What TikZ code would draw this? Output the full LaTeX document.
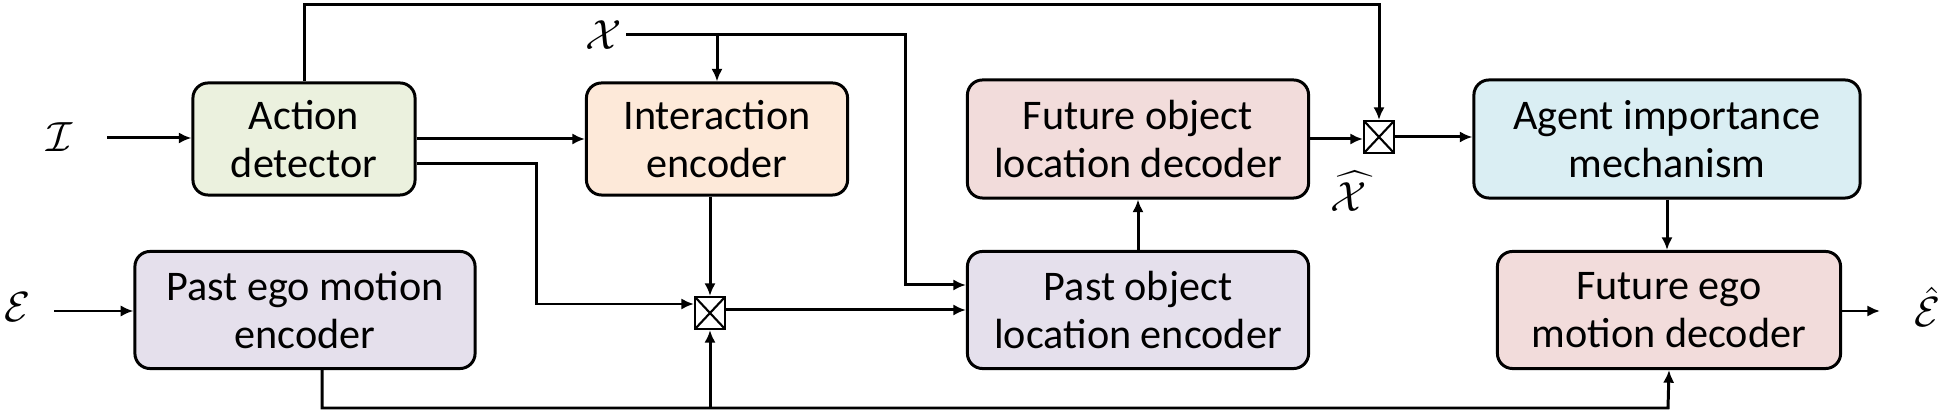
\documentclass[tikz,border=0pt]{standalone}
\usepackage{fontspec}
\setmainfont{Carlito}
\usetikzlibrary{arrows.meta, calc}

\definecolor{actfill}{HTML}{EBF1DE}
\definecolor{intfill}{HTML}{FDE9D9}
\definecolor{decfill}{HTML}{F2DCDB}
\definecolor{encfill}{HTML}{E5E0EC}
\definecolor{agtfill}{HTML}{DAEEF3}

\begin{document}
\begin{tikzpicture}[x=0.01cm, y=-0.01cm, font=\fontsize{12}{13.7}\selectfont]
\useasboundingbox (0,0) rectangle (1943,413);

% block styles
\tikzset{blk/.style={draw, line width=0.85pt, rounded corners=4.3pt, align=center, inner sep=0pt},
         mulbox/.style={draw, line width=0.6pt, fill=white, inner sep=0pt,
                        minimum width=0.3cm, minimum height=0.32cm,
                        path picture={\draw[line width=0.6pt] (path picture bounding box.north west) -- (path picture bounding box.south east)
                                      (path picture bounding box.south west) -- (path picture bounding box.north east);}},
         flow/.style={-{Latex[length=3.6pt,width=3.2pt]}, line width=0.85pt},
         sym/.style={inner sep=1pt, font=\fontsize{12}{14}\selectfont}}

% ---- upper row
\node[blk, fill=actfill, minimum width=2.22cm, minimum height=1.12cm] (act) at (304,139) {Action\\detector};
\node[blk, fill=intfill, minimum width=2.61cm, minimum height=1.12cm] (ienc) at (717,139) {Interaction\\encoder};
\node[blk, fill=decfill, minimum width=3.41cm, minimum height=1.18cm] (foldec) at (1138,139) {Future object\\location decoder};
\node[blk, fill=agtfill, minimum width=3.86cm, minimum height=1.18cm] (agent) at (1667,139) {Agent importance\\mechanism};

% ---- lower row
\node[blk, fill=encfill, minimum width=3.40cm, minimum height=1.17cm] (pego) at (305,310) {Past ego motion\\encoder};
\node[blk, fill=encfill, minimum width=3.41cm, minimum height=1.17cm] (poenc) at (1138,310) {Past object\\location encoder};
\node[blk, fill=decfill, minimum width=3.43cm, minimum height=1.17cm] (fego) at (1669,310) {Future ego\\motion decoder};

% ---- products
\node[mulbox] (mult1) at (710,313) {};
\node[mulbox] (mult2) at (1379,137) {};

% ---- inputs and outputs
\node[sym] (inI) at (60,137) {$\mathcal{I}$};
\node[sym] (inE) at (18,307) {$\mathcal{E}$};
\node[sym] (inX) at (604,35) {$\mathcal{X}$};
\node[sym] (outX) at (1349,191) {$\widehat{\mathcal{X}}$};
\node[sym] (outE) at (1927,307) {$\hat{\mathcal{E}}$};

\coordinate (istart) at (107,138);
\coordinate (estart) at (54,311);
\coordinate (eend) at (1880,311);
\coordinate (topR) at (1379,5);
\coordinate (abend) at (536,304);
\coordinate (xdown) at (905,285);
\coordinate (botR) at (1668,408);

% ---- connectors
\draw[flow] (istart) -- (istart -| act.west);
\draw[flow] (estart) -- (estart -| pego.west);
\draw[flow] (act.east) -- (ienc.west);
\draw[flow] (act.north) |- (topR) -- (mult2.north);
\draw[flow] ([yshift=-0.24cm]act.east) -| (abend) -- (abend -| mult1.west);
\draw[flow] (inX.east) -| (xdown) -- (xdown -| poenc.west);
\draw[flow] (inX.east -| ienc.north) -- (ienc.north);
\draw[flow] (ienc.south -| mult1) -- (mult1.north);
\draw[flow] ([yshift=0.03cm]mult1.east) -- ([yshift=0.03cm]mult1.east -| poenc.west);
\draw[flow] ([xshift=0.17cm]pego.south) |- (botR) -- (fego.south);
\draw[flow] (mult1 |- botR) -- (mult1.south);
\draw[flow] (poenc.north) -- (foldec.south);
\draw[flow] (foldec.east) -- (foldec.east -| mult2.west);
\draw[flow] (mult2.east) -- (mult2.east -| agent.west);
\draw[flow] (agent.south) -- (agent.south |- fego.north);
\draw[flow] (eend -| fego.east) -- (eend);
\end{tikzpicture}
\end{document}
